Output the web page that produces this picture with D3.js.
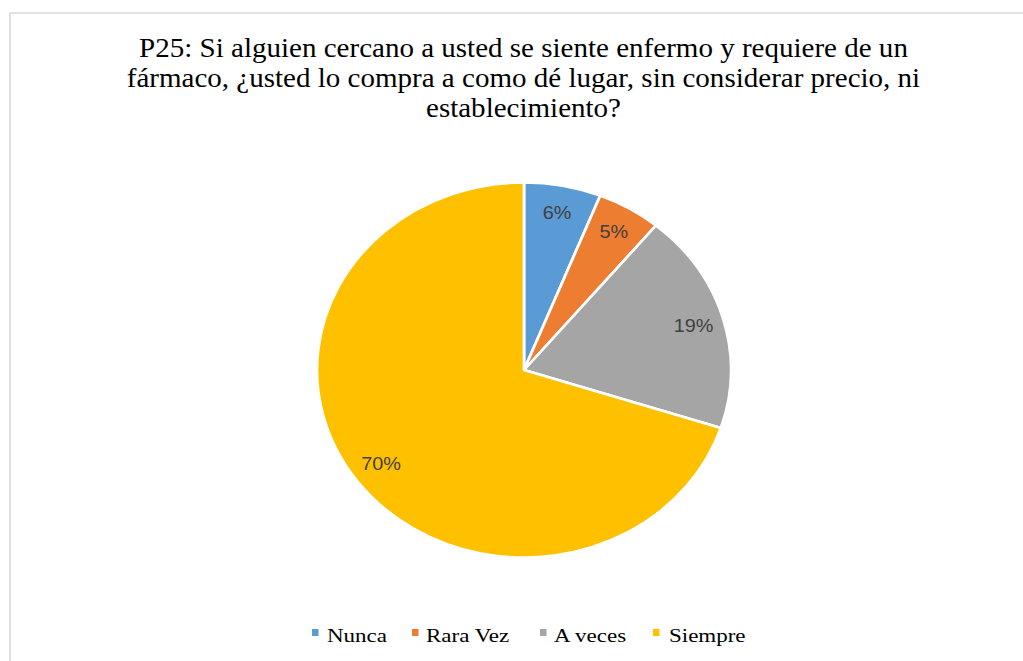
<!DOCTYPE html>
<html>
<head>
<meta charset="utf-8">
<script src="https://cdn.jsdelivr.net/npm/d3@7"></script>
<style>
  html, body { margin: 0; padding: 0; background: #fff; }
  svg { display: block; }
</style>
</head>
<body>
<svg id="chart" width="1023" height="661"></svg>
<script>
// Survey answers and their shares (percent)
const categories = ["Nunca", "Rara Vez", "A veces", "Siempre"];
const values = [6, 5, 19, 70];
const colors = ["#5B9BD5", "#ED7D31", "#A5A5A5", "#FFC000"];
const titleLines = [
  "P25: Si alguien cercano a usted se siente enfermo y requiere de un",
  "fármaco, ¿usted lo compra a como dé lugar, sin considerar precio, ni",
  "establecimiento?"
];

const W = 1023, H = 661;
const sx = 1.104;            // horizontal stretch of the whole figure
const cx = 524, cy = 370;    // pie centre
const R = 187.5;             // pie radius (vertical)
const labelR = 160;

const svg = d3.select("#chart");

// chart frame
svg.append("rect")
  .attr("x", 10).attr("y", 13)
  .attr("width", W + 20).attr("height", H + 20)
  .attr("fill", "#fff")
  .attr("stroke", "#d9d9d9")
  .attr("stroke-width", 1.5);

// title
const title = svg.append("g")
  .attr("transform", `translate(${cx - 0.5},0) scale(${sx},1)`);
title.selectAll("text")
  .data(titleLines)
  .join("text")
  .attr("x", 0)
  .attr("y", (d, i) => 57 + i * 30)
  .attr("text-anchor", "middle")
  .attr("font-family", "'Liberation Serif', 'Times New Roman', serif")
  .attr("font-size", 26.3)
  .attr("fill", "#000")
  .text(d => d);

// pie
const pie = d3.pie().sort(null).value(d => d);
const arcs = pie(values);
const arc = d3.arc().innerRadius(0).outerRadius(R);
const labelArc = d3.arc().innerRadius(labelR).outerRadius(labelR);

const pieG = svg.append("g")
  .attr("transform", `translate(${cx},${cy}) scale(${sx},1)`);

pieG.selectAll("path")
  .data(arcs)
  .join("path")
  .attr("d", arc)
  .attr("fill", (d, i) => colors[i])
  .attr("stroke", "#fff")
  .attr("stroke-width", 2.5)
  .attr("stroke-linejoin", "round");

// percentage labels
svg.append("g")
  .attr("transform", `translate(${cx},${cy})`)
  .selectAll("text")
  .data(arcs)
  .join("text")
  .attr("transform", d => {
    const [x, y] = labelArc.centroid(d);
    return `translate(${x * sx},${y}) scale(${sx},1)`;
  })
  .attr("text-anchor", "middle")
  .attr("dominant-baseline", "central")
  .attr("font-family", "'Liberation Sans', Arial, sans-serif")
  .attr("font-size", 18)
  .attr("fill", "#404040")
  .text(d => d.data + "%");

// legend
const markerX = [312, 412, 540, 653];
const textX = [327, 426, 554, 669];
const legend = svg.append("g");
const items = legend.selectAll("g")
  .data(categories)
  .join("g");
items.append("rect")
  .attr("x", (d, i) => markerX[i]).attr("y", 629)
  .attr("width", 6.5).attr("height", 7)
  .attr("fill", (d, i) => colors[i]);
items.append("text")
  .attr("transform", (d, i) => `translate(${textX[i]},641.5) scale(1.21,1)`)
  .attr("font-family", "'Liberation Serif', 'Times New Roman', serif")
  .attr("font-size", 19)
  .attr("fill", "#000")
  .text(d => d);
</script>
</body>
</html>
